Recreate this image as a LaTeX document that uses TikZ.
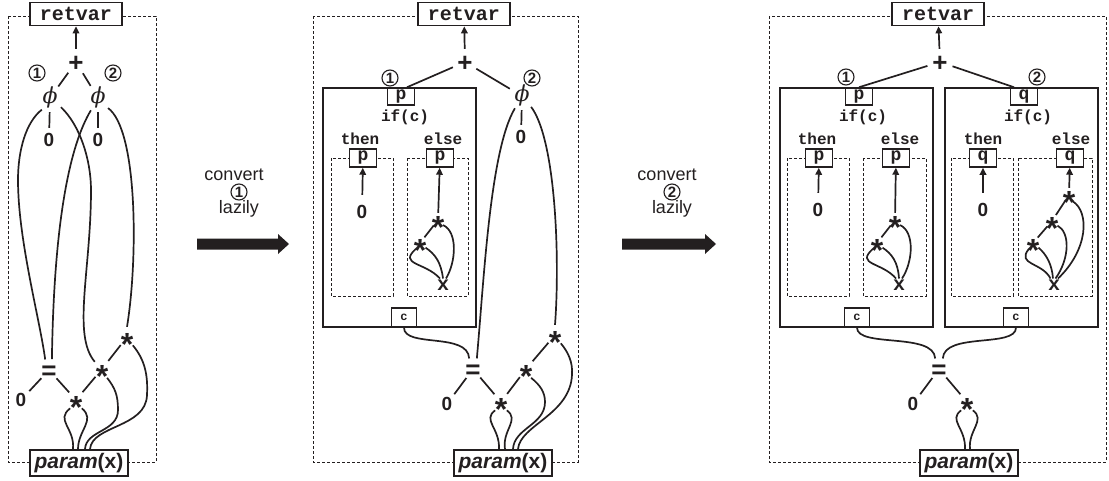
\documentclass[tikz,border=0pt]{standalone}
\usepackage{fontspec}
\setmainfont{Liberation Sans}
\setmonofont{Liberation Mono}
\newfontfamily\phifont{DejaVu Serif}
\usetikzlibrary{arrows.meta}
\definecolor{ink}{RGB}{35,31,32}
\newcommand\gctr[2]{\smash{\raisebox{-#1}{#2}}}
\newcommand\gZero{\gctr{0.355em}{0}}
\newcommand\gPlus{\gctr{0.35em}{+}}
\newcommand\gEq{\gctr{0.36em}{=}}
\newcommand\gStar{\gctr{0.57em}{*}}
\newcommand\gPhi{\gctr{0.27em}{\phifont\itshape\symbol{"03D5}}}
\tikzset{
  ln/.style={draw=ink, line width=1.7pt},
  arr/.style={ln, -{Triangle[length=7pt,width=6.5pt]}},
  dbox/.style={draw=ink, line width=0.8pt, dash pattern=on 3pt off 2pt},
  ifbox/.style={draw=ink, line width=1.5pt},
  tbox/.style={draw=ink, line width=1.7pt, fill=white, text=ink, inner sep=0pt, minimum width=92pt, minimum height=23pt, font=\fontsize{20}{20}\selectfont\ttfamily\bfseries},
  vbox/.style={draw=ink, line width=1.5pt, fill=white, text=ink, inner sep=0pt, minimum width=27pt, minimum height=17pt, font=\fontsize{18}{18}\selectfont\ttfamily\bfseries},
  cbox/.style={draw=ink, line width=1.3pt, fill=white, text=ink, inner sep=0pt, minimum width=25pt, minimum height=19pt, font=\fontsize{12}{12}\selectfont\ttfamily\bfseries},
  pbox/.style={draw=ink, line width=1.7pt, fill=white, text=ink, inner sep=0pt, minimum width=98pt, minimum height=26pt, font=\fontsize{21}{21}\selectfont\bfseries},
  lbl/.style={text=ink, inner sep=0pt, font=\fontsize{16}{16}\selectfont\ttfamily\bfseries},
  xnode/.style={text=ink, inner sep=1pt, font=\fontsize{20}{20}\selectfont\ttfamily\bfseries},
  op/.style={circle, inner sep=0pt, text=ink},
  zer/.style={op, minimum size=24pt, font=\fontsize{19}{19}\selectfont\bfseries},
  plusn/.style={op, minimum size=26pt, font=\fontsize{26}{26}\selectfont\bfseries},
  eqn/.style={op, minimum size=22pt, font=\fontsize{26}{26}\selectfont\bfseries},
  stn/.style={op, minimum size=20pt, font=\fontsize{32}{32}\selectfont\bfseries},
  sstn/.style={stn, minimum size=14pt},
  phin/.style={op, minimum size=28pt, font=\fontsize{22}{22}\selectfont},
  cnum/.style={circle, draw=ink, line width=1.1pt, minimum size=16pt, inner sep=0pt, text=ink, font=\fontsize{15}{15}\selectfont\bfseries},
  word/.style={text=ink, inner sep=0pt, font=\fontsize{18}{18}\selectfont},
}
\begin{document}
\begin{tikzpicture}[x=1pt,y=-1pt]
\useasboundingbox (0,0) rectangle (1109,480);

% ================= panel 1 =================
\draw[dbox] (8,16) rectangle (156,462);
\node[tbox] (r1) at (76,14) {retvar};
\node[plusn] (pl1) at (76,62) {\gPlus};
\node[cnum] (n11) at (37,73) {1};
\node[cnum] (n12) at (113,73) {2};
\node[phin] (f11) at (50,98) {\gPhi};
\node[phin] (f12) at (98,98) {\gPhi};
\node[zer] (z11) at (49,140) {\gZero};
\node[zer] (z12) at (98,140) {\gZero};
\node[eqn] (e1) at (49,370) {\gEq};
\node[zer] (z13) at (21,400) {\gZero};
\node[stn] (s11) at (76,400) {\gStar};
\node[stn] (s12) at (102,369) {\gStar};
\node[stn] (s13) at (127,337) {\gStar};
\node[pbox] (pa1) at (79,463) {{\itshape param}(x)};

\draw[arr] (pl1) -- (r1);
\draw[ln] (pl1) -- (f11);
\draw[ln] (pl1) -- (f12);
\draw[ln] (f11) -- (z11);
\draw[ln] (f12) -- (z12);
\draw[ln] (e1) -- (z13);
\draw[ln] (e1) -- (s11);
\draw[ln] (s12) -- (s11);
\draw[ln] (s13) -- (s12);
\draw[ln] (f11.235) .. controls (26,122) and (18,150) .. (18,180) .. controls (18,240) and (40,320) .. (e1.110);
\draw[ln] (f12.240) .. controls (70,145) and (54,220) .. (e1.75);
\draw[ln] (f11.-40) .. controls (80,125) and (91,160) .. (91,190) .. controls (91,270) and (72,335) .. (s12.135);
\draw[ln] (f12.-45) .. controls (138,130) and (138,260) .. (s13.north);
\draw[ln] (s11.235) .. controls (55,420) and (75,428) .. ([xshift=-6pt]pa1.north);
\draw[ln] (s11.305) .. controls (96,420) and (78,430) .. ([xshift=-1pt]pa1.north);
\draw[ln] (s12.-60) .. controls (115,388) and (118,395) .. (118,410) .. controls (118,432) and (86,430) .. ([xshift=6pt]pa1.north);
\draw[ln] (s13.-55) .. controls (145,360) and (148,375) .. (147,395) .. controls (146,428) and (92,425) .. ([xshift=11pt]pa1.north);

% ================= arrow 1 =================
\fill[ink] (197,238.5) -- (278,238.5) -- (278,234) -- (289,244) -- (278,254) -- (278,249.5) -- (197,249.5) -- cycle;
\node[word] (cv1) at (234,175) {convert};
\node[cnum] (m1) at (239,192) {1};
\node[word] (lz1) at (239,209) {lazily};

% ================= panel 2 =================
\draw[dbox] (313,16) rectangle (578,462);
\node[tbox] (r2) at (464,14) {retvar};
\node[plusn] (pl2) at (465,62) {\gPlus};
\node[cnum] (n21) at (390,78) {1};
\node[cnum] (n22) at (532,78) {2};
\draw[ifbox] (323,88) rectangle (476,327);
\node[vbox] (pA2) at (401,96.5) {p};
\node[lbl] (if2) at (405,117) {if(c)};
\node[lbl] (th2) at (360,139) {then};
\node[lbl] (el2) at (443,139) {else};
\draw[dbox] (331,158) rectangle (393,296);
\draw[dbox] (407,158) rectangle (468,296);
\node[vbox, minimum height=18pt] (tp2) at (363,158) {p};
\node[vbox, minimum height=18pt] (ep2) at (440,158) {p};
\node[zer, minimum size=34pt] (z21) at (362,212) {\gZero};
\node[sstn] (es21) at (438,220) {\gStar};
\node[sstn] (es22) at (420,243) {\gStar};
\node[xnode] (ex2) at (443,285) {x};
\node[cbox] (cA2) at (404,317.5) {c};
\node[phin] (f22) at (522,96) {\gPhi};
\node[zer] (z22) at (521,137) {\gZero};
\node[eqn] (e2) at (473,369) {\gEq};
\node[zer] (z23) at (447,404) {\gZero};
\node[stn] (s21) at (501,402) {\gStar};
\node[stn] (s22) at (526,369) {\gStar};
\node[stn] (s23) at (555,335) {\gStar};
\node[pbox] (pa2) at (503,463) {{\itshape param}(x)};

\draw[arr] (pl2) -- (r2);
\draw[ln] (pl2) -- ([xshift=6pt]pA2.north);
\draw[ln] (pl2) -- (f22);
\draw[ln] (f22) -- (z22);
\draw[arr] (z21) -- (tp2);
\draw[arr] (es21) -- (ep2);
\draw[ln] (es21) -- (es22);
\draw[ln] (es21.-45) .. controls (458,232) and (456,262) .. ([xshift=3pt]ex2.north);
\draw[ln] (es22.-40) .. controls (435,254) and (441,262) .. (ex2.north);
\draw[ln] (es22.235) .. controls (398,265) and (425,262) .. ([xshift=-3pt]ex2.north);
\draw[ln] (cA2.south) .. controls (404,348) and (468,332) .. (e2.110);
\draw[ln] (f22.240) .. controls (490,150) and (484,280) .. (e2.70);
\draw[ln] (f22.-50) .. controls (556,140) and (560,260) .. (s23.north);
\draw[ln] (e2) -- (z23);
\draw[ln] (e2) -- (s21);
\draw[ln] (s22) -- (s21);
\draw[ln] (s23) -- (s22);
\draw[ln] (s21.235) .. controls (482,420) and (500,428) .. ([xshift=-4pt]pa2.north);
\draw[ln] (s21.305) .. controls (520,420) and (502,430) .. ([xshift=2pt]pa2.north);
\draw[ln] (s22.-60) .. controls (540,385) and (545,392) .. (545,402) .. controls (545,425) and (514,428) .. ([xshift=10pt]pa2.north);
\draw[ln] (s23.-55) .. controls (568,352) and (573,362) .. (572,375) .. controls (570,415) and (520,425) .. ([xshift=15pt]pa2.north);

% ================= arrow 2 =================
\fill[ink] (622,238.5) -- (705,238.5) -- (705,234) -- (716,244) -- (705,254) -- (705,249.5) -- (622,249.5) -- cycle;
\node[word] (cv2) at (667,175) {convert};
\node[cnum] (m2) at (672,192) {2};
\node[word] (lz2) at (672,209) {lazily};

% ================= panel 3 =================
\draw[dbox] (769,16) rectangle (1106,462);
\node[tbox] (r3) at (938,14) {retvar};
\node[plusn] (pl3) at (940,62) {\gPlus};
\node[cnum] (n31) at (846,77) {1};
\node[cnum] (n32) at (1037,77) {2};
\draw[ifbox] (780,88) rectangle (933,327);
\draw[ifbox] (945,88) rectangle (1098,327);
\node[vbox] (pA3) at (859,96.5) {p};
\node[vbox] (qA3) at (1024,96.5) {q};
\node[lbl] (if3) at (863,117) {if(c)};
\node[lbl] (if4) at (1028,117) {if(c)};
\node[lbl] (th3) at (817,139) {then};
\node[lbl] (el3) at (900,139) {else};
\node[lbl] (th4) at (983,139) {then};
\node[lbl] (el4) at (1071,139) {else};
\draw[dbox] (787,158) rectangle (849,296);
\draw[dbox] (863,158) rectangle (926,296);
\draw[dbox] (951,158) rectangle (1013,296);
\draw[dbox] (1018,158) rectangle (1092,296);
\node[vbox, minimum height=18pt] (tp3) at (819,158) {p};
\node[vbox, minimum height=18pt] (ep3) at (896,158) {p};
\node[vbox, minimum height=18pt] (tq3) at (983,158) {q};
\node[vbox, minimum height=18pt] (eq3) at (1070,158) {q};
\node[zer, minimum size=34pt] (z31) at (818,210) {\gZero};
\node[zer, minimum size=34pt] (z32) at (983,210) {\gZero};
\node[sstn] (a1) at (895,220) {\gStar};
\node[sstn] (a2) at (877,243) {\gStar};
\node[xnode] (ax) at (899,285) {x};
\node[sstn] (b1) at (1069,195) {\gStar};
\node[sstn] (b2) at (1052,221) {\gStar};
\node[sstn] (b3) at (1033,243) {\gStar};
\node[xnode] (bx) at (1054,285) {x};
\node[cbox] (cA3) at (857,317.5) {c};
\node[cbox] (cB3) at (1016,317.5) {c};
\node[eqn] (e3) at (939,369) {\gEq};
\node[zer] (z33) at (913,404) {\gZero};
\node[stn] (s31) at (967,402) {\gStar};
\node[pbox] (pa3) at (969,463) {{\itshape param}(x)};

\draw[arr] (pl3) -- (r3);
\draw[ln] (pl3) -- (pA3.north);
\draw[ln] (pl3) -- ([xshift=-10pt]qA3.north);
\draw[arr] (z31) -- (tp3);
\draw[arr] (z32) -- (tq3);
\draw[arr] (a1) -- (ep3);
\draw[ln] (a1) -- (a2);
\draw[ln] (a1.-45) .. controls (915,232) and (913,262) .. ([xshift=3pt]ax.north);
\draw[ln] (a2.-40) .. controls (892,254) and (898,262) .. (ax.north);
\draw[ln] (a2.235) .. controls (855,265) and (882,262) .. ([xshift=-3pt]ax.north);
\draw[arr] (b1) -- (eq3);
\draw[ln] (b1) -- (b2);
\draw[ln] (b2) -- (b3);
\draw[ln] (b1.-60) .. controls (1090,212) and (1088,250) .. ([xshift=4pt]bx.north);
\draw[ln] (b2.-40) .. controls (1070,232) and (1070,258) .. ([xshift=1.5pt]bx.north);
\draw[ln] (b3.-40) .. controls (1047,255) and (1052,265) .. ([xshift=-1pt]bx.north);
\draw[ln] (b3.235) .. controls (1016,265) and (1042,262) .. ([xshift=-3.5pt]bx.north);
\draw[ln] (cA3.south) .. controls (857,348) and (934,332) .. (e3.110);
\draw[ln] (cB3.south) .. controls (1016,348) and (944,332) .. (e3.70);
\draw[ln] (e3) -- (z33);
\draw[ln] (e3) -- (s31);
\draw[ln] (s31.235) .. controls (948,420) and (966,428) .. ([xshift=-4pt]pa3.north);
\draw[ln] (s31.305) .. controls (986,420) and (968,430) .. ([xshift=1pt]pa3.north);
\end{tikzpicture}
\end{document}
